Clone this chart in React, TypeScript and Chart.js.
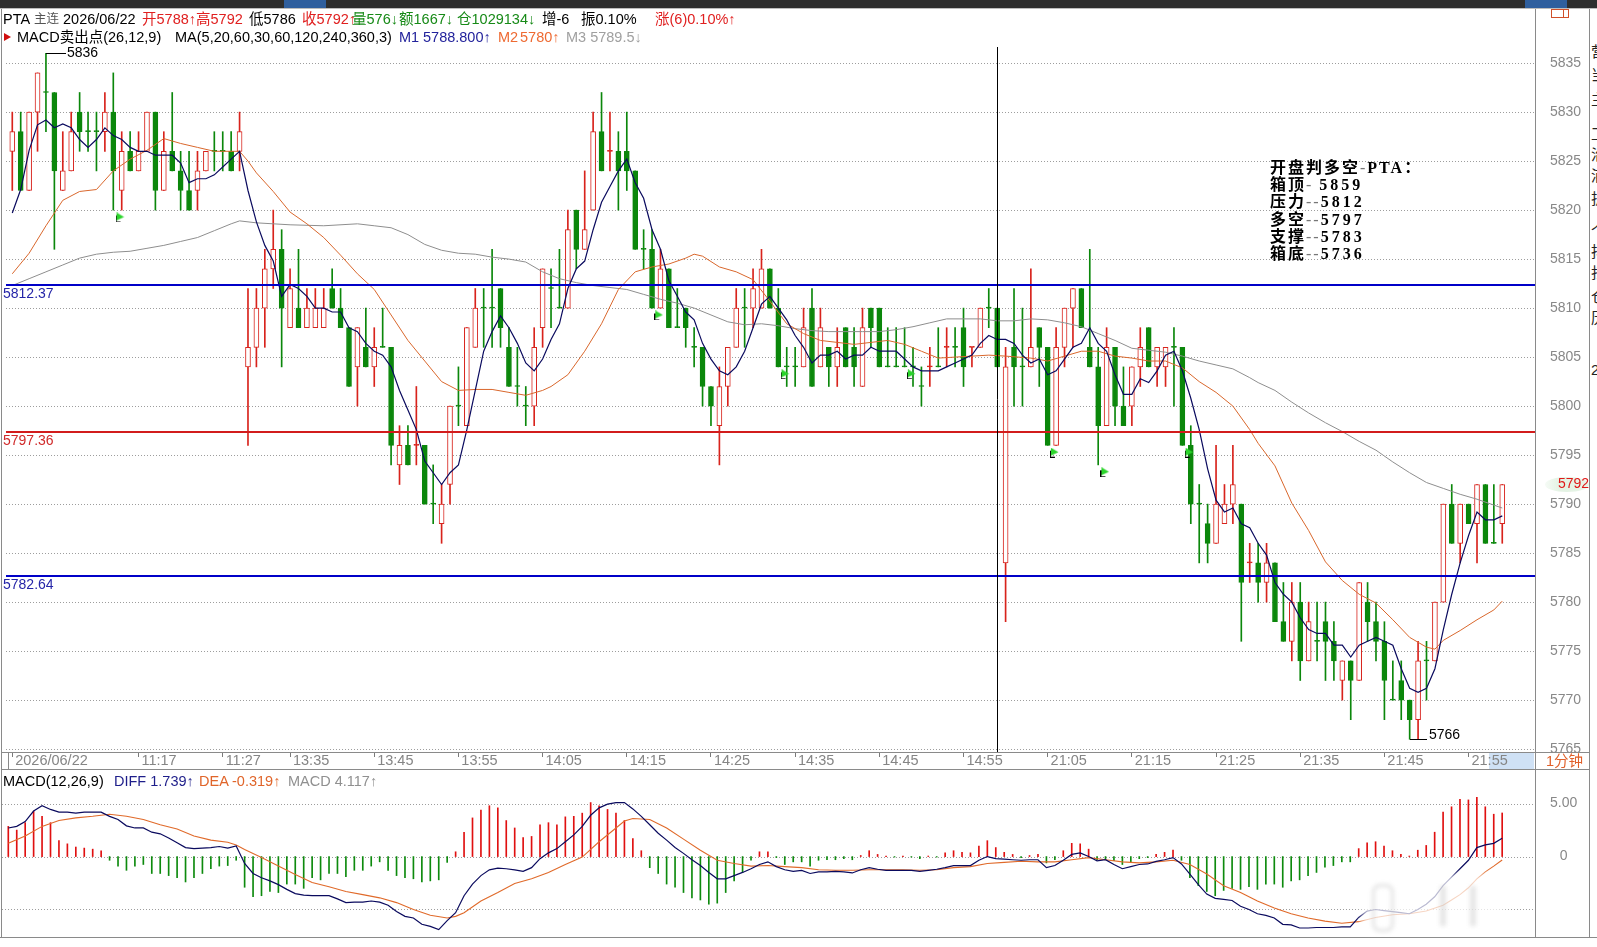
import React, { useEffect, useRef } from "react";
import { Chart, registerables } from "chart.js";

Chart.register(...registerables);

// ---------------- 1-minute bars (PTA 主连) ----------------
const OPEN = [
  5826, 5828, 5822, 5830, 5832, 5832, 5822, 5824, 5830, 5828,
  5828, 5828, 5830, 5822, 5826, 5824, 5826, 5830, 5822, 5826,
  5824, 5822, 5822, 5824, 5826, 5826, 5826, 5826, 5804, 5806,
  5810, 5814, 5816, 5808, 5810, 5808, 5808, 5808, 5812, 5810,
  5808, 5804, 5806, 5804, 5806, 5806, 5794, 5796, 5796, 5796,
  5790, 5788, 5792, 5800, 5798, 5806, 5810, 5810, 5812, 5806,
  5802, 5800, 5800, 5808, 5812, 5810, 5810, 5820, 5816, 5820,
  5828, 5826, 5826, 5826, 5824, 5816, 5816, 5810, 5814, 5808,
  5810, 5806, 5806, 5802, 5798, 5802, 5806, 5810, 5810, 5810,
  5814, 5810, 5804, 5804, 5804, 5810, 5804, 5806, 5804, 5808,
  5806, 5802, 5810, 5810, 5804, 5804, 5804, 5804, 5802, 5804,
  5804, 5806, 5806, 5808, 5806, 5806, 5810, 5810, 5784, 5806,
  5804, 5804, 5808, 5806, 5796, 5806, 5810, 5812, 5806, 5804,
  5798, 5806, 5800, 5800, 5804, 5808, 5804, 5804, 5806, 5806,
  5796, 5790, 5788, 5786, 5788, 5790, 5790, 5784, 5784, 5782,
  5784, 5778, 5776, 5780, 5774, 5776, 5778, 5776, 5772, 5774,
  5772, 5780, 5778, 5776, 5770, 5772, 5770, 5768, 5774, 5774,
  5780, 5790, 5786, 5790, 5788, 5792, 5786, 5788,
];
const HIGH = [
  5830, 5830, 5830, 5834, 5836, 5832, 5828, 5830, 5832, 5830,
  5830, 5832, 5834, 5828, 5828, 5828, 5830, 5830, 5828, 5832,
  5826, 5826, 5826, 5826, 5828, 5828, 5828, 5830, 5812, 5812,
  5816, 5820, 5818, 5814, 5816, 5812, 5812, 5812, 5814, 5812,
  5808, 5808, 5810, 5808, 5810, 5806, 5798, 5798, 5802, 5796,
  5794, 5792, 5800, 5804, 5808, 5812, 5812, 5816, 5812, 5808,
  5806, 5802, 5808, 5814, 5814, 5816, 5820, 5820, 5824, 5830,
  5832, 5830, 5828, 5830, 5824, 5818, 5818, 5816, 5814, 5812,
  5810, 5808, 5806, 5802, 5804, 5806, 5812, 5812, 5814, 5816,
  5814, 5812, 5806, 5806, 5810, 5812, 5810, 5806, 5808, 5808,
  5808, 5810, 5810, 5810, 5808, 5808, 5808, 5806, 5804, 5806,
  5808, 5808, 5808, 5810, 5806, 5810, 5812, 5810, 5806, 5812,
  5810, 5814, 5808, 5806, 5808, 5810, 5812, 5812, 5816, 5806,
  5808, 5806, 5804, 5804, 5808, 5808, 5806, 5806, 5808, 5806,
  5798, 5792, 5790, 5796, 5792, 5796, 5790, 5786, 5786, 5786,
  5784, 5782, 5782, 5782, 5780, 5780, 5780, 5778, 5774, 5774,
  5782, 5782, 5780, 5778, 5774, 5774, 5770, 5776, 5776, 5780,
  5790, 5792, 5790, 5790, 5792, 5792, 5792, 5792,
];
const LOW = [
  5822, 5822, 5822, 5826, 5828, 5816, 5822, 5824, 5826, 5826,
  5824, 5826, 5820, 5820, 5824, 5824, 5826, 5820, 5822, 5824,
  5820, 5820, 5820, 5824, 5824, 5824, 5824, 5824, 5796, 5804,
  5806, 5812, 5804, 5808, 5808, 5808, 5808, 5808, 5810, 5808,
  5802, 5800, 5804, 5802, 5806, 5794, 5792, 5794, 5794, 5790,
  5788, 5786, 5790, 5798, 5798, 5806, 5806, 5806, 5806, 5802,
  5800, 5798, 5798, 5806, 5808, 5810, 5810, 5814, 5816, 5820,
  5824, 5824, 5820, 5822, 5816, 5814, 5810, 5810, 5808, 5808,
  5806, 5804, 5800, 5798, 5794, 5800, 5806, 5806, 5808, 5810,
  5810, 5804, 5802, 5802, 5804, 5802, 5804, 5802, 5802, 5804,
  5802, 5802, 5806, 5804, 5804, 5804, 5804, 5802, 5800, 5802,
  5804, 5804, 5804, 5802, 5804, 5806, 5808, 5804, 5778, 5800,
  5800, 5804, 5802, 5796, 5796, 5804, 5806, 5808, 5804, 5794,
  5798, 5798, 5798, 5798, 5802, 5804, 5802, 5802, 5800, 5796,
  5788, 5784, 5784, 5786, 5788, 5788, 5776, 5782, 5780, 5780,
  5778, 5776, 5774, 5772, 5774, 5774, 5772, 5772, 5770, 5768,
  5772, 5776, 5774, 5768, 5770, 5768, 5766, 5766, 5770, 5774,
  5780, 5786, 5784, 5788, 5784, 5786, 5786, 5786,
];
const CLOSE = [
  5828, 5822, 5830, 5834, 5832, 5824, 5824, 5828, 5828, 5828,
  5828, 5830, 5824, 5826, 5824, 5826, 5830, 5822, 5826, 5824,
  5822, 5820, 5824, 5826, 5826, 5826, 5824, 5828, 5806, 5810,
  5814, 5816, 5810, 5812, 5808, 5810, 5810, 5810, 5810, 5808,
  5802, 5808, 5804, 5806, 5806, 5796, 5796, 5794, 5796, 5790,
  5790, 5790, 5800, 5800, 5808, 5810, 5810, 5810, 5808, 5802,
  5802, 5800, 5806, 5814, 5812, 5810, 5818, 5816, 5818, 5828,
  5824, 5826, 5824, 5824, 5816, 5816, 5810, 5814, 5808, 5808,
  5808, 5806, 5802, 5800, 5802, 5806, 5810, 5810, 5812, 5814,
  5810, 5804, 5804, 5804, 5808, 5802, 5808, 5804, 5806, 5804,
  5804, 5808, 5808, 5804, 5804, 5804, 5804, 5804, 5802, 5804,
  5804, 5806, 5806, 5804, 5806, 5810, 5810, 5804, 5804, 5804,
  5804, 5806, 5806, 5796, 5806, 5810, 5812, 5808, 5804, 5798,
  5806, 5800, 5798, 5804, 5806, 5804, 5806, 5806, 5806, 5796,
  5790, 5790, 5786, 5790, 5790, 5792, 5782, 5784, 5782, 5784,
  5778, 5776, 5780, 5774, 5778, 5776, 5776, 5774, 5774, 5772,
  5782, 5778, 5776, 5772, 5770, 5770, 5768, 5774, 5774, 5780,
  5790, 5786, 5790, 5788, 5792, 5786, 5786, 5792,
];

// M1 (5-bar average), per bar
const MA5 = [
  5819.7, 5822.1, 5826.1, 5828.7, 5829.2, 5828.4, 5828.8, 5828.4, 5827.2, 5826.4,
  5827.2, 5828.4, 5827.6, 5827.2, 5826.4, 5826.0, 5826.0, 5825.6, 5825.6, 5825.6,
  5824.8, 5822.8, 5823.2, 5823.2, 5823.6, 5824.4, 5825.2, 5826.0, 5822.0, 5818.8,
  5816.4, 5814.8, 5811.2, 5812.4, 5812.0, 5811.2, 5810.0, 5810.0, 5809.6, 5809.6,
  5808.0, 5807.6, 5806.4, 5805.6, 5805.2, 5804.0, 5801.6, 5799.6, 5797.6, 5794.4,
  5793.2, 5792.0, 5793.2, 5794.0, 5797.6, 5801.6, 5805.6, 5807.6, 5809.2, 5808.0,
  5806.4, 5804.4, 5803.6, 5804.8, 5806.8, 5808.4, 5812.0, 5814.0, 5814.8, 5818.0,
  5820.8, 5822.4, 5824.0, 5825.2, 5822.8, 5821.2, 5818.0, 5816.0, 5812.8, 5811.2,
  5809.6, 5808.8, 5806.4, 5804.8, 5803.6, 5803.2, 5804.0, 5805.6, 5808.0, 5810.4,
  5811.2, 5810.0, 5808.8, 5807.2, 5806.0, 5804.4, 5805.2, 5805.2, 5805.6, 5804.8,
  5805.2, 5805.2, 5806.0, 5805.6, 5805.6, 5805.6, 5804.8, 5804.0, 5803.6, 5803.6,
  5803.6, 5804.0, 5804.4, 5804.8, 5805.2, 5806.4, 5807.2, 5806.8, 5806.8, 5806.4,
  5805.2, 5804.4, 5804.8, 5803.2, 5803.6, 5804.8, 5806.0, 5806.4, 5808.0, 5806.4,
  5805.6, 5803.2, 5801.2, 5801.2, 5802.8, 5802.4, 5803.6, 5805.2, 5805.6, 5803.6,
  5800.8, 5797.6, 5793.6, 5790.4, 5789.2, 5789.6, 5788.0, 5787.6, 5786.0, 5784.8,
  5782.0, 5780.8, 5780.0, 5778.4, 5777.2, 5776.8, 5776.8, 5775.6, 5775.6, 5774.4,
  5775.6, 5776.0, 5776.4, 5776.0, 5775.6, 5773.2, 5771.2, 5770.8, 5771.2, 5773.2,
  5777.2, 5780.8, 5784.0, 5786.8, 5789.2, 5788.4, 5788.4, 5788.8,
];

// M2 (orange) read at bar positions [bar, value]
const MA20 = [
  [0, 5813.5], [2, 5815.6], [4, 5818.4], [6, 5821.0], [8, 5821.9], [10, 5822.1], [12, 5824.0],
  [14, 5825.2], [16, 5826.1], [18, 5827.3], [20, 5826.8], [22, 5826.4], [24, 5826.0], [27, 5826.0],
  [28, 5825.0], [29, 5823.8], [31, 5821.9], [33, 5819.8], [35, 5818.6], [37, 5817.2], [39, 5815.4],
  [41, 5813.5], [43, 5811.9], [45, 5809.3], [47, 5806.7], [49, 5804.6], [51, 5802.5], [53, 5801.6],
  [55, 5801.7], [57, 5801.7], [59, 5801.4], [61, 5801.1], [63, 5801.6], [64, 5802.0], [66, 5803.2],
  [68, 5805.6], [70, 5808.4], [72, 5811.9], [74, 5813.7], [76, 5814.2], [78, 5814.5], [80, 5815.1],
  [81, 5815.5], [82, 5815.3], [84, 5814.2], [86, 5813.7], [88, 5812.9], [90, 5810.7], [92, 5808.4],
  [94, 5807.4], [96, 5806.7], [98, 5806.5], [100, 5806.3], [102, 5806.5], [104, 5806.7], [106, 5806.3],
  [108, 5805.6], [110, 5804.9], [112, 5805.0], [114, 5805.1], [116, 5805.2], [118, 5805.1], [121, 5804.9],
  [123, 5804.6], [125, 5805.1], [127, 5805.6], [129, 5805.6], [131, 5805.1], [133, 5804.9], [135, 5804.6],
  [137, 5804.6], [139, 5803.9], [141, 5802.5], [143, 5801.4], [145, 5800.0], [147, 5797.6], [148, 5796.2],
  [150, 5793.9], [152, 5790.1], [154, 5787.3], [156, 5784.1], [158, 5782.2], [160, 5780.8], [162, 5779.9],
  [164, 5778.2], [166, 5776.4], [168, 5775.4], [169, 5775.2], [170, 5776.1], [172, 5777.1], [174, 5778.2],
  [176, 5779.2], [177, 5780.1],
];

// M3 (gray) read at bar positions [bar, value]
const MA60 = [
  [0, 5812.3], [2, 5813.0], [4, 5813.7], [6, 5814.4], [8, 5815.1], [10, 5815.5], [12, 5815.7],
  [14, 5815.8], [16, 5816.1], [18, 5816.4], [20, 5816.8], [22, 5817.2], [24, 5817.9], [26, 5818.6],
  [27, 5818.9], [29, 5818.7], [33, 5818.5], [37, 5818.4], [41, 5818.6], [43, 5818.4], [45, 5818.2],
  [47, 5817.5], [49, 5816.5], [51, 5815.9], [53, 5815.6], [55, 5815.5], [57, 5815.2], [59, 5815.0],
  [61, 5814.7], [63, 5813.7], [65, 5813.0], [67, 5812.6], [69, 5812.3], [71, 5812.1], [73, 5811.9],
  [75, 5811.4], [77, 5810.9], [79, 5810.5], [81, 5810.0], [83, 5809.3], [85, 5808.6], [87, 5808.3],
  [89, 5808.4], [91, 5808.2], [93, 5807.9], [95, 5807.7], [97, 5807.6], [101, 5807.6], [103, 5807.6],
  [105, 5807.8], [107, 5808.1], [109, 5808.5], [111, 5808.9], [115, 5808.9], [117, 5808.7], [119, 5808.7],
  [121, 5808.9], [123, 5808.8], [125, 5808.5], [127, 5808.1], [129, 5807.4], [131, 5806.7], [133, 5805.9],
  [135, 5805.7], [137, 5805.5], [139, 5805.1], [141, 5804.6], [143, 5804.2], [145, 5803.8], [147, 5802.9],
  [148, 5802.4], [150, 5801.6], [152, 5800.4], [154, 5799.3], [156, 5798.3], [158, 5797.4], [160, 5796.4],
  [162, 5795.5], [164, 5794.3], [166, 5793.2], [168, 5792.2], [170, 5791.6], [172, 5791.0], [174, 5790.5],
  [176, 5789.9], [177, 5789.6],
];

// ---------------- MACD(12,26,9) ----------------
const MACD_HIST = [
  2.85, 2.5, 3.2, 4.3, 3.8, 3.2, 1.5, 1.2, 0.9, 0.8,
  0.7, 0.55, -0.35, -0.9, -1.3, -0.9, -0.75, -1.6, -1.6, -1.8,
  -2.0, -2.4, -2.0, -1.6, -1.15, -0.9, -0.85, -0.35, -2.9, -3.8,
  -3.7, -3.3, -3.4, -2.6, -2.6, -3.0, -2.0, -2.2, -1.6, -1.6,
  -1.9, -1.3, -1.3, -0.9, -0.5, -1.3, -1.8, -2.0, -2.1, -2.4,
  -2.3, -2.2, -0.55, 0.45, 2.3, 3.65, 4.4, 4.8, 4.6, 3.4,
  2.7, 1.8, 1.9, 3.0, 3.2, 3.0, 3.75, 3.8, 4.1, 5.1,
  4.8, 4.45, 4.1, 3.4, 1.7, 0.55, -1.05, -1.6, -2.6, -2.9,
  -3.4, -3.9, -4.1, -4.5, -4.4, -3.4, -2.3, -1.5, -0.35, 0.45,
  0.45, -0.1, -0.75, -0.5, -0.5, -0.9, -0.35, -0.3, -0.3, -0.2,
  -0.3, 0.1, 0.55, 0.2, 0.05, -0.05, 0.05, -0.05, -0.2, 0.05,
  -0.05, 0.35, 0.55, 0.4, 0.35, 1.0, 1.5, 0.85, 0.4, 0.2,
  -0.1, 0.1, 0.2, -0.6, -0.3, 0.55, 1.25, 1.2, 0.7, -0.3,
  -0.2, -0.4, -0.75, -0.5, -0.2, -0.1, 0.2, 0.4, 0.6, -0.35,
  -2.0, -2.75, -3.3, -3.7, -3.2, -3.0, -3.1, -2.85, -3.1, -2.6,
  -2.6, -2.9, -2.3, -2.2, -1.8, -1.5, -1.0, -0.85, -0.5, -0.5,
  0.75, 1.3, 1.4, 1.0, 0.55, 0.2, 0.05, 0.6, 1.05, 2.3,
  4.2, 4.7, 5.4, 5.35, 5.6, 4.7, 4.0, 4.117,
];
const DIFF = [
  2.7, 2.85, 3.3, 4.3, 4.8, 4.45, 4.2, 4.2, 4.1, 4.2,
  4.2, 4.2, 3.8, 3.5, 2.9, 2.7, 2.7, 2.3, 2.15, 1.75,
  1.3, 0.85, 0.75, 0.8, 0.85, 0.95, 0.8, 1.0, -0.65, -1.6,
  -2.0, -2.3, -2.65, -3.1, -3.5, -3.65, -3.7, -3.7, -3.7, -4.0,
  -4.35, -4.3, -4.3, -4.2, -4.3, -4.6, -5.2, -5.65, -5.8, -6.4,
  -6.6, -6.9, -6.05, -5.3, -3.7, -2.6, -1.8, -1.25, -1.1, -1.15,
  -1.25, -1.4, -1.05, -0.2, 0.35, 0.75, 1.4, 2.05, 2.85, 3.9,
  4.6, 4.95, 5.1, 5.1, 4.5, 3.8, 3.0, 2.2, 1.55, 0.85,
  0.3, -0.3, -0.85, -1.5, -2.1, -2.1, -1.8, -1.5, -1.15, -0.75,
  -0.5, -0.95, -1.25, -1.4, -1.3, -1.6, -1.45, -1.45, -1.4, -1.45,
  -1.55, -1.25, -1.05, -1.2, -1.3, -1.3, -1.3, -1.3, -1.4, -1.3,
  -1.2, -1.05, -0.85, -0.85, -0.85, -0.35, 0.0, -0.2, -0.25, -0.3,
  -0.35, -0.3, -0.3, -1.05, -0.85, -0.35, 0.2, 0.35, 0.0, -0.4,
  -0.3, -0.75, -1.15, -0.95, -0.75, -0.7, -0.45, -0.3, -0.1, -0.7,
  -1.65, -2.65, -3.55, -3.95, -4.05, -4.15, -4.7, -5.0, -5.4, -5.55,
  -5.8, -6.4, -6.45, -6.75, -6.75, -6.7, -6.7, -6.7, -6.65, -6.65,
  -5.75, -5.15, -5.0, -5.1, -5.2, -5.3, -5.4, -5.0, -4.5, -3.8,
  -2.75, -1.95, -1.15, -0.35, 0.85, 1.1, 1.25, 1.739,
];
const DEA = [
  [0, 1.25], [2, 1.95], [4, 2.85], [6, 3.4], [8, 3.65], [10, 3.8], [12, 4.0], [14, 3.8], [16, 3.5],
  [18, 3.0], [20, 2.6], [22, 1.95], [24, 1.55], [26, 1.35], [27, 1.1], [28, 0.67], [30, -0.1],
  [32, -0.9], [34, -1.7], [36, -2.45], [38, -2.85], [40, -3.3], [42, -3.6], [44, -3.9], [46, -4.35],
  [48, -5.0], [50, -5.55], [52, -5.8], [53, -5.65], [54, -5.3], [56, -4.2], [58, -3.4], [60, -2.55],
  [62, -2.1], [64, -1.5], [66, -0.75], [68, -0.05], [70, 1.4], [72, 2.7], [73, 3.35], [74, 3.6],
  [76, 3.5], [78, 2.7], [80, 1.65], [82, 0.6], [84, -0.35], [86, -0.65], [88, -0.9], [90, -0.85],
  [92, -0.95], [94, -1.05], [96, -1.25], [98, -1.3], [100, -1.3], [102, -1.25], [106, -1.25],
  [108, -1.3], [110, -1.25], [112, -1.05], [114, -0.95], [116, -0.65], [118, -0.55], [120, -0.45],
  [122, -0.5], [124, -0.5], [126, -0.3], [128, -0.1], [130, -0.3], [132, -0.5], [134, -0.6],
  [136, -0.5], [138, -0.35], [140, -0.75], [142, -1.65], [144, -2.75], [146, -3.4], [148, -4.2],
  [150, -4.85], [152, -5.4], [154, -5.8], [156, -6.1], [158, -6.3], [160, -6.15], [162, -5.75],
  [164, -5.5], [166, -5.4], [168, -5.15], [170, -4.6], [171, -4.1], [172, -3.6], [173, -2.95],
  [174, -2.1], [175, -1.45], [176, -0.9], [177, -0.319],
];

// ---------------- axes, levels, markers ----------------
const TIME_TICKS = [0, 15, 25, 33, 43, 53, 63, 73, 83, 93, 103, 113, 123, 133, 143, 153, 163, 173];
const TIME_LABELS = [
  "2026/06/22", "11:17", "11:27", "13:35", "13:45", "13:55", "14:05", "14:15", "14:25",
  "14:35", "14:45", "14:55", "21:05", "21:15", "21:25", "21:35", "21:45", "21:55",
];
const PRICE_TICKS = [5765, 5770, 5775, 5780, 5785, 5790, 5795, 5800, 5805, 5810, 5815, 5820, 5825, 5830, 5835];
const MACD_TICKS = [-5, 0, 5];
const MACD_TICK_LABELS = ["", "0", "5.00"];
const LEVELS = [5812.37, 5797.36, 5782.64];
const SELL_POINTS = [12, 76, 91, 106, 123, 129, 139];
const CURSOR_INDEX = 117;
const HIGH_INDEX = 4;
const LOW_INDEX = 166;
const LAST_PRICE = 5792;

const PTA_LINES = [
  ["开盘判多空", "-", "PTA：", ""],
  ["箱顶", "- ", "5859", ""],
  ["压力", "--", "5812", ""],
  ["多空", "--", "5797", ""],
  ["支撑", "--", "5783", ""],
  ["箱底", "--", "5736", ""],
];

// ---------------- styling ----------------
const N = CLOSE.length;
const FONT = '"Liberation Sans", Arial, "Noto Sans CJK SC", sans-serif';
const RED = "#d8231c";
const GREEN = "#0b870b";
const LEVEL_COLORS = ["#0000c8", "#d21c1c", "#0000c8"];
const LEVEL_TEXT = ["#2525a8", "#d02a2a", "#2525a8"];
const X_MIN = -0.7464;
const X_MAX = 180.889;
const P_MIN = 5764.704;
const P_MAX = 5836.643;
const M_MIN = -7.599;
const M_MAX = 8.176;

function isUp(i: number) {
  if (CLOSE[i] !== OPEN[i]) return CLOSE[i] > OPEN[i];
  return i > 0 && CLOSE[i] > CLOSE[i - 1];
}

function makeFlag() {
  const c = document.createElement("canvas");
  c.width = 9;
  c.height = 10;
  const g = c.getContext("2d")!;
  g.fillStyle = "#2bd42b";
  g.beginPath();
  g.moveTo(1, 0);
  g.lineTo(8.5, 4.5);
  g.lineTo(1, 8);
  g.closePath();
  g.fill();
  g.fillStyle = "#000";
  g.fillRect(0, 3, 1, 7);
  g.fillRect(0, 9, 5, 1);
  return c;
}

const priceDecor = {
  id: "priceDecor",
  beforeDatasetsDraw(chart: any) {
    const { ctx, chartArea: a, scales } = chart;
    ctx.save();
    ctx.strokeStyle = "#9d9d9d";
    ctx.lineWidth = 1;
    ctx.setLineDash([1, 2]);
    PRICE_TICKS.forEach((v) => {
      const py = Math.round(scales.y.getPixelForValue(v)) + 0.5;
      ctx.beginPath();
      ctx.moveTo(a.left, py);
      ctx.lineTo(a.right, py);
      ctx.stroke();
    });
    ctx.restore();
  },
  afterDatasetsDraw(chart: any) {
    const { ctx, chartArea: a, scales } = chart;
    const x = scales.x;
    const y = scales.y;
    ctx.save();
    ctx.font = `14px ${FONT}`;
    LEVELS.forEach((v, k) => {
      const py = Math.round(y.getPixelForValue(v));
      ctx.fillStyle = LEVEL_COLORS[k];
      ctx.fillRect(a.left, py - 1, a.right - a.left, 2);
      ctx.fillStyle = LEVEL_TEXT[k];
      ctx.textBaseline = "top";
      ctx.textAlign = "left";
      ctx.fillText(v.toFixed(2), 3, py + 2);
    });
    // cursor line
    const cx = Math.round(x.getPixelForValue(CURSOR_INDEX)) + 0.5;
    ctx.strokeStyle = "#000";
    ctx.lineWidth = 1;
    ctx.beginPath();
    ctx.moveTo(cx, a.top);
    ctx.lineTo(cx, a.bottom);
    ctx.stroke();
    // high / low notes
    ctx.fillStyle = "#000";
    ctx.strokeStyle = "#000";
    const hx = Math.round(x.getPixelForValue(HIGH_INDEX));
    const hy = Math.round(y.getPixelForValue(HIGH[HIGH_INDEX])) + 0.5;
    ctx.beginPath();
    ctx.moveTo(hx, hy);
    ctx.lineTo(hx + 20, hy);
    ctx.stroke();
    ctx.textBaseline = "middle";
    ctx.fillText(String(HIGH[HIGH_INDEX]), hx + 21, hy);
    const lx = Math.round(x.getPixelForValue(LOW_INDEX));
    const ly = Math.round(y.getPixelForValue(LOW[LOW_INDEX])) + 0.5;
    ctx.beginPath();
    ctx.moveTo(lx, ly);
    ctx.lineTo(lx + 17, ly);
    ctx.stroke();
    ctx.textBaseline = "alphabetic";
    ctx.fillText(String(LOW[LOW_INDEX]), lx + 19, ly - 1);
    // last price tag on the axis
    const ty = y.getPixelForValue(LAST_PRICE);
    const grd = ctx.createLinearGradient(a.right + 10, 0, a.right + 54, 0);
    grd.addColorStop(0, "rgba(225,242,225,0.3)");
    grd.addColorStop(0.35, "#e3f2e3");
    grd.addColorStop(1, "#e8f5e8");
    ctx.fillStyle = grd;
    ctx.beginPath();
    ctx.ellipse(a.right + 32, ty, 22, 7.5, 0, 0, Math.PI * 2);
    ctx.fill();
    ctx.fillStyle = "#e01818";
    ctx.textBaseline = "middle";
    ctx.textAlign = "left";
    ctx.fillText(String(LAST_PRICE), a.right + 23, ty);
    ctx.restore();
  },
};

const macdDecor = {
  id: "macdDecor",
  beforeDatasetsDraw(chart: any) {
    const { ctx, chartArea: a, scales } = chart;
    ctx.save();
    ctx.strokeStyle = "#9d9d9d";
    ctx.lineWidth = 1;
    ctx.setLineDash([1, 2]);
    MACD_TICKS.forEach((v) => {
      const py = Math.round(scales.y.getPixelForValue(v)) + 0.5;
      ctx.beginPath();
      ctx.moveTo(a.left, py);
      ctx.lineTo(a.right, py);
      ctx.stroke();
    });
    ctx.restore();
  },
};

const Txt = ({ x, y, c, s = 14.5, children, w }: any) => (
  <span
    style={{
      position: "absolute",
      left: x,
      top: y - 8,
      lineHeight: "16px",
      fontSize: s,
      color: c || "#000",
      whiteSpace: "nowrap",
      fontWeight: w || "normal",
    }}
  >
    {children}
  </span>
);

const Line = ({ x, y, w, h, c = "#9a9a9a" }: any) => (
  <div style={{ position: "absolute", left: x, top: y, width: w, height: h, background: c }} />
);

const fitY = (s: any) => {
  s.width = 54;
  s.paddingTop = 0;
  s.paddingBottom = 0;
};

export default function App() {
  const priceRef = useRef<HTMLCanvasElement>(null);
  const macdRef = useRef<HTMLCanvasElement>(null);

  useEffect(() => {
    const idx = Array.from({ length: N }, (_, i) => i);
    const colors = idx.map((i) => (isUp(i) ? RED : GREEN));
    const bodyFill = idx.map((i) => (isUp(i) && OPEN[i] !== CLOSE[i] ? "#ffffff" : colors[i]));
    const flag = makeFlag();

    const xBase: any = {
      type: "linear",
      min: X_MIN,
      max: X_MAX,
      offset: false,
      bounds: "data",
    };

    const price = new Chart(priceRef.current!, {
      type: "bar",
      data: {
        datasets: [
          {
            type: "bar",
            label: "wick",
            data: idx.map((i) => ({ x: i, y: [LOW[i], HIGH[i]] })) as any,
            backgroundColor: colors,
            barThickness: 1,
            grouped: false,
            order: 6,
          } as any,
          {
            type: "bar",
            label: "body",
            data: idx.map((i) => ({
              x: i,
              y: [Math.min(OPEN[i], CLOSE[i]), Math.max(OPEN[i], CLOSE[i])],
            })) as any,
            backgroundColor: bodyFill,
            borderColor: colors,
            borderWidth: 1,
            borderSkipped: false,
            barThickness: 5,
            minBarLength: 1,
            grouped: false,
            order: 5,
          } as any,
          {
            type: "line",
            label: "M3",
            data: MA60.map(([i, v]) => ({ x: i, y: v })),
            borderColor: "#8e8e8e",
            borderWidth: 1,
            pointRadius: 0,
            order: 4,
          } as any,
          {
            type: "line",
            label: "M2",
            data: MA20.map(([i, v]) => ({ x: i, y: v })),
            borderColor: "#d9672c",
            borderWidth: 1,
            pointRadius: 0,
            order: 3,
          } as any,
          {
            type: "line",
            label: "M1",
            data: idx.map((i) => ({ x: i, y: MA5[i] })),
            borderColor: "#0a0a5e",
            borderWidth: 1.2,
            pointRadius: 0,
            order: 2,
          } as any,
          {
            type: "line",
            label: "sell",
            data: SELL_POINTS.map((i) => ({ x: i + 0.8, y: LOW[i] - 0.75 })),
            showLine: false,
            pointStyle: flag,
            pointRadius: 5,
            order: 1,
          } as any,
        ],
      },
      options: {
        responsive: false,
        animation: false,
        events: [],
        layout: { padding: { left: 2, top: 47, right: 0, bottom: 0 } },
        plugins: { legend: { display: false }, tooltip: { enabled: false } },
        scales: {
          x: {
            ...xBase,
            afterBuildTicks: (s: any) => {
              s.ticks = TIME_TICKS.map((v) => ({ value: v }));
            },
            afterFit: (s: any) => {
              s.height = 18;
              s.paddingLeft = 0;
              s.paddingRight = 0;
            },
            ticks: {
              autoSkip: false,
              maxRotation: 0,
              minRotation: 0,
              align: "start",
              padding: -5,
              color: "#858585",
              font: { size: 14.5, family: FONT },
              callback: (v: any) => "\u2009" + TIME_LABELS[TIME_TICKS.indexOf(Number(v))],
            },
            grid: {
              display: true,
              drawOnChartArea: false,
              drawTicks: true,
              tickLength: 5,
              color: "#7a7a7a",
              offset: false,
            },
            border: { display: false },
          },
          y: {
            type: "linear",
            position: "right",
            min: P_MIN,
            max: P_MAX,
            afterBuildTicks: (s: any) => {
              s.ticks = PRICE_TICKS.map((v) => ({ value: v }));
            },
            afterFit: fitY,
            ticks: {
              padding: 15,
              crossAlign: "center",
              color: "#888888",
              font: { size: 14, family: FONT },
              callback: (v: any) => String(v),
            },
            grid: { display: false, drawTicks: false },
            border: { display: false },
          },
        } as any,
      },
      plugins: [priceDecor],
    });

    const macd = new Chart(macdRef.current!, {
      type: "bar",
      data: {
        datasets: [
          {
            type: "bar",
            label: "MACD",
            data: idx.map((i) => ({ x: i, y: MACD_HIST[i] })) as any,
            backgroundColor: idx.map((i) => (MACD_HIST[i] >= 0 ? "#e01010" : "#0d8a0d")),
            barThickness: 1,
            grouped: false,
            order: 3,
          } as any,
          {
            type: "line",
            label: "DEA",
            data: DEA.map(([i, v]) => ({ x: i, y: v })),
            borderColor: "#e06a2a",
            borderWidth: 1.1,
            pointRadius: 0,
            order: 2,
          } as any,
          {
            type: "line",
            label: "DIFF",
            data: idx.map((i) => ({ x: i, y: DIFF[i] })),
            borderColor: "#0a0a5e",
            borderWidth: 1.2,
            pointRadius: 0,
            order: 1,
          } as any,
        ],
      },
      options: {
        responsive: false,
        animation: false,
        events: [],
        layout: { padding: { left: 2, top: 0, right: 0, bottom: 0 } },
        plugins: { legend: { display: false }, tooltip: { enabled: false } },
        scales: {
          x: { ...xBase, display: false },
          y: {
            type: "linear",
            position: "right",
            min: M_MIN,
            max: M_MAX,
            afterBuildTicks: (s: any) => {
              s.ticks = MACD_TICKS.map((v) => ({ value: v }));
            },
            afterFit: fitY,
            ticks: {
              padding: 15,
              crossAlign: "center",
              color: "#888888",
              font: { size: 14, family: FONT },
              callback: (v: any) => MACD_TICK_LABELS[MACD_TICKS.indexOf(Number(v))],
            },
            grid: { display: false, drawTicks: false },
            border: { display: false },
          },
        } as any,
      },
      plugins: [macdDecor],
    });

    return () => {
      price.destroy();
      macd.destroy();
    };
  }, []);

  const rightStrip = ["营", "当", "主", "工", "治", "浦", "护", "个", "抖", "扫", "仓", "历", "2"];
  const rightStripY = [40, 63, 88, 122, 143, 164, 187, 219, 240, 261, 285, 306, 361];

  return (
    <div
      style={{
        position: "absolute",
        left: 0,
        top: 0,
        width: 1597,
        height: 947,
        background: "#ffffff",
        overflow: "hidden",
        fontFamily: FONT,
      }}
    >
      {/* window top bar */}
      <div style={{ position: "absolute", left: 0, top: 0, width: 1597, height: 8, background: "#2e2e2e" }} />
      <div style={{ position: "absolute", left: 284, top: 0, width: 42, height: 8, background: "#2f5f9e" }} />
      <div style={{ position: "absolute", left: 1525, top: 0, width: 42, height: 8, background: "#2f5f9e" }} />
      <div style={{ position: "absolute", left: 1551, top: 9, width: 18, height: 9, border: "1px solid #d0502a", boxSizing: "border-box" }} />
      <div style={{ position: "absolute", left: 1563, top: 9, width: 1, height: 9, background: "#d0502a" }} />

      {/* time-axis highlight */}
      <div style={{ position: "absolute", left: 1489, top: 753, width: 45, height: 16, background: "#cfe1f5" }} />

      <canvas
        ref={priceRef}
        width={1589}
        height={770}
        style={{ position: "absolute", left: 0, top: 0, width: 1589, height: 770 }}
      />
      <canvas
        ref={macdRef}
        width={1589}
        height={167}
        style={{ position: "absolute", left: 0, top: 770, width: 1589, height: 167 }}
      />

      {/* frame */}
      <Line x={0} y={8} w={1597} h={1} c="#bdbdbd" />
      <Line x={1} y={9} w={1} h={928} c="#8a8a8a" />
      <Line x={1} y={752} w={1588} h={1} c="#8a8a8a" />
      <Line x={1} y={769} w={1588} h={1} c="#8a8a8a" />
      <Line x={8} y={752} w={1} h={17} c="#8a8a8a" />
      <Line x={0} y={937} w={1597} h={1} c="#8a8a8a" />
      <Line x={1535} y={9} w={1} h={928} c="#8a8a8a" />
      <Line x={1589} y={9} w={1} h={928} c="#8a8a8a" />

      {/* partially visible side panel */}
      <div style={{ position: "absolute", left: 1591, top: 9, width: 6, height: 400, overflow: "hidden" }}>
        {rightStrip.map((ch, k) => (
          <span key={k} style={{ position: "absolute", left: 0, top: rightStripY[k] - 9, fontSize: 15, color: "#222" }}>
            {ch}
          </span>
        ))}
      </div>

      {/* header line 1 */}
      <Txt x={3} y={19}>PTA</Txt>
      <Txt x={34} y={19} c="#555" s={12.5}>主连</Txt>
      <Txt x={63} y={19}>2026/06/22</Txt>
      <Txt x={142} y={19} c="#e02020">开5788↑</Txt>
      <Txt x={196} y={19} c="#e02020">高5792</Txt>
      <Txt x={249} y={19}>低5786</Txt>
      <Txt x={302} y={19} c="#e02020">收5792↑</Txt>
      <Txt x={352} y={19} c="#178a17">量576↓</Txt>
      <Txt x={399} y={19} c="#178a17">额1667↓</Txt>
      <Txt x={457} y={19} c="#178a17">仓1029134↓</Txt>
      <Txt x={542} y={19}>增-6</Txt>
      <Txt x={581} y={19}>振0.10%</Txt>
      <Txt x={655} y={19} c="#e02020">涨(6)0.10%↑</Txt>

      {/* header line 2 */}
      <div
        style={{
          position: "absolute",
          left: 4,
          top: 33,
          width: 0,
          height: 0,
          borderTop: "4px solid transparent",
          borderBottom: "4px solid transparent",
          borderLeft: "7px solid #d01010",
        }}
      />
      <Txt x={17} y={37}>MACD卖出点(26,12,9)</Txt>
      <Txt x={175} y={37}>MA(5,20,60,30,60,120,240,360,3)</Txt>
      <Txt x={399} y={37} c="#23239c">M1</Txt>
      <Txt x={423} y={37} c="#23239c">5788.800↑</Txt>
      <Txt x={498} y={37} c="#ee6a32">M2</Txt>
      <Txt x={520} y={37} c="#ee6a32">5780↑</Txt>
      <Txt x={566} y={37} c="#a0a0a0">M3 5789.5↓</Txt>

      {/* period label */}
      <Txt x={1546} y={761} c="#e0602a">1分钟</Txt>

      {/* MACD header */}
      <Txt x={3} y={781}>MACD(12,26,9)</Txt>
      <Txt x={114} y={781} c="#1e1e8a">DIFF 1.739↑</Txt>
      <Txt x={199} y={781} c="#e0652a">DEA -0.319↑</Txt>
      <Txt x={288} y={781} c="#909090">MACD 4.117↑</Txt>

      {/* PTA opening judgement note */}
      <div
        style={{
          position: "absolute",
          left: 1270,
          top: 159,
          fontSize: 16,
          lineHeight: "17.2px",
          fontWeight: "bold",
          letterSpacing: "2px",
          fontFamily: '"Liberation Serif", "Noto Sans CJK SC", serif',
          color: "#000",
          whiteSpace: "pre",
        }}
      >
        {PTA_LINES.map((ln, k) => (
          <div key={k}>
            {ln[0]}
            <span style={{ color: "#777", fontWeight: "normal" }}>{ln[1]}</span>
            <span style={{ letterSpacing: k === 0 ? "2px" : "3px" }}>{ln[2]}</span>
          </div>
        ))}
      </div>

      {/* faint watermark veil */}
      <div
        style={{
          position: "absolute",
          left: 1362,
          top: 874,
          width: 142,
          height: 58,
          background: "rgba(255,255,255,0.72)",
          filter: "blur(3px)",
          borderRadius: 8,
        }}
      />
      <div style={{ position: "absolute", left: 1372, top: 884, width: 16, height: 42, border: "3px solid rgba(200,200,200,0.5)", borderRadius: 8, filter: "blur(2px)" }} />
      <div style={{ position: "absolute", left: 1440, top: 886, width: 6, height: 40, background: "rgba(200,200,200,0.45)", filter: "blur(2px)" }} />
      <div style={{ position: "absolute", left: 1470, top: 886, width: 6, height: 40, background: "rgba(200,200,200,0.45)", filter: "blur(2px)" }} />
    </div>
  );
}
